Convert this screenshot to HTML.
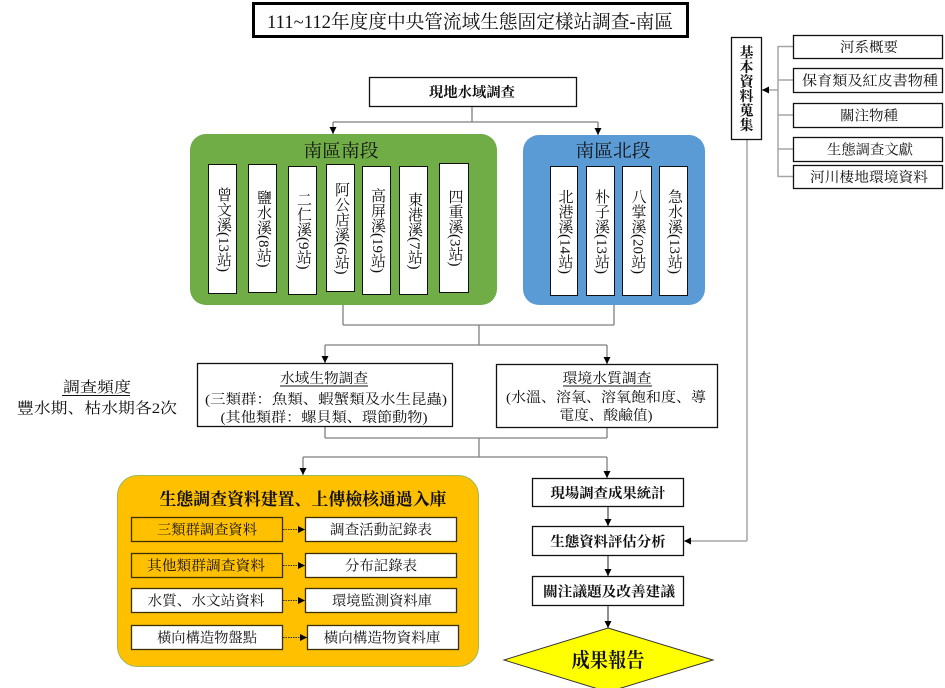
<!DOCTYPE html>
<html><head><meta charset="utf-8">
<style>
html,body{margin:0;padding:0;background:#fff;}
#wrap{position:relative;width:945px;height:688px;overflow:hidden;font-family:"Liberation Serif","Noto Serif CJK SC",serif;}
svg{position:absolute;left:0;top:0;}
svg text{font-family:"Liberation Serif","Noto Serif CJK SC",serif;fill:#111;}
.st{position:absolute;box-sizing:border-box;border:1.5px solid #111;background:#fff;display:flex;align-items:center;justify-content:center;}
.st span{writing-mode:vertical-rl;text-orientation:mixed;font-size:15px;line-height:15px;color:#111;}
</style></head><body>
<div id="wrap">
<svg width="945" height="688" viewBox="0 0 945 688" xmlns="http://www.w3.org/2000/svg">
<defs>
<marker id="a" viewBox="0 0 10 10" refX="10" refY="5" markerWidth="7" markerHeight="7" markerUnits="userSpaceOnUse" orient="auto"><path d="M0,0 L10,5 L0,10 z" fill="#000"/></marker>
</defs>

<!-- Title -->
<rect x="253.5" y="3.5" width="434" height="33" fill="#fff" stroke="#000" stroke-width="3"/>
<text x="470" y="28" font-size="19" text-anchor="middle" textLength="406" lengthAdjust="spacingAndGlyphs">111~112年度度中央管流域生態固定樣站調查-南區</text>

<!-- 現地水域調查 -->
<rect x="369.5" y="77.5" width="207" height="29" fill="#fff" stroke="#111" stroke-width="1.3"/>
<text x="472" y="97" font-size="14" font-weight="bold" text-anchor="middle" textLength="86" lengthAdjust="spacingAndGlyphs">現地水域調查</text>

<g stroke="#7f7f7f" stroke-width="1.3" fill="none">
<line x1="472" y1="107" x2="472" y2="122"/>
<line x1="333" y1="122" x2="598" y2="122"/>
<line x1="333" y1="122" x2="333" y2="134" marker-end="url(#a)"/>
<line x1="598" y1="122" x2="598" y2="135" marker-end="url(#a)"/>
</g>

<!-- Green / Blue groups -->
<rect x="190" y="134" width="307" height="171" rx="16" fill="#70AD47"/>
<text x="341" y="157" font-size="18" text-anchor="middle" textLength="75" lengthAdjust="spacingAndGlyphs">南區南段</text>
<rect x="523" y="135" width="182" height="170" rx="16" fill="#5B9BD5"/>
<text x="613" y="157" font-size="18" text-anchor="middle" textLength="75" lengthAdjust="spacingAndGlyphs">南區北段</text>

<!-- connectors middle -->
<g stroke="#7f7f7f" stroke-width="1.3" fill="none">
<line x1="343" y1="305" x2="343" y2="325"/>
<line x1="614" y1="305" x2="614" y2="325"/>
<line x1="343" y1="325" x2="614" y2="325"/>
<line x1="479" y1="325" x2="479" y2="345"/>
<line x1="325" y1="345" x2="607" y2="345"/>
<line x1="325" y1="345" x2="325" y2="363" marker-end="url(#a)"/>
<line x1="607" y1="345" x2="607" y2="364" marker-end="url(#a)"/>
<line x1="325" y1="427" x2="325" y2="438"/>
<line x1="607" y1="428" x2="607" y2="438"/>
<line x1="325" y1="438" x2="607" y2="438"/>
<line x1="479" y1="438" x2="479" y2="457"/>
<line x1="303" y1="457" x2="607" y2="457"/>
<line x1="303" y1="457" x2="303" y2="475" marker-end="url(#a)"/>
<line x1="607" y1="457" x2="607" y2="478" marker-end="url(#a)"/>
</g>

<!-- 調查頻度 -->
<text x="97" y="392" font-size="15" text-anchor="middle" textLength="68" lengthAdjust="spacingAndGlyphs">調查頻度</text>
<line x1="62" y1="395.5" x2="130" y2="395.5" stroke="#111" stroke-width="1"/>
<text x="97" y="413" font-size="15" text-anchor="middle" textLength="160" lengthAdjust="spacingAndGlyphs">豐水期、枯水期各2次</text>

<!-- 水域生物調查 -->
<rect x="197.5" y="363.5" width="255" height="63" fill="#fff" stroke="#111" stroke-width="1.3"/>
<text x="324" y="383" font-size="14" text-anchor="middle" textLength="88" lengthAdjust="spacingAndGlyphs">水域生物調查</text>
<line x1="280" y1="386" x2="368" y2="386" stroke="#111" stroke-width="1"/>
<text x="326" y="404" font-size="14" text-anchor="middle" textLength="242" lengthAdjust="spacingAndGlyphs">(三類群：魚類、蝦蟹類及水生昆蟲)</text>
<text x="324" y="422" font-size="14" text-anchor="middle" textLength="207" lengthAdjust="spacingAndGlyphs">(其他類群：螺貝類、環節動物)</text>

<!-- 環境水質調查 -->
<rect x="496.5" y="364.5" width="221" height="63" fill="#fff" stroke="#111" stroke-width="1.3"/>
<text x="607" y="383" font-size="14" text-anchor="middle" textLength="89" lengthAdjust="spacingAndGlyphs">環境水質調查</text>
<line x1="563" y1="386" x2="652" y2="386" stroke="#111" stroke-width="1"/>
<text x="606" y="402" font-size="14" text-anchor="middle" textLength="200" lengthAdjust="spacingAndGlyphs">(水溫、溶氧、溶氧飽和度、導</text>
<text x="606" y="420" font-size="14" text-anchor="middle" textLength="93" lengthAdjust="spacingAndGlyphs">電度、酸鹼值)</text>

<!-- Orange group -->
<rect x="117.5" y="475.5" width="361" height="191" rx="20" fill="#FFC000" stroke="#9BBB59" stroke-width="1"/>
<text x="303" y="505" font-size="17" font-weight="bold" text-anchor="middle" textLength="287" lengthAdjust="spacingAndGlyphs">生態調查資料建置、上傳檢核通過入庫</text>

<g stroke="#3a3000" stroke-width="1.3">
<rect x="131.5" y="517.5" width="151" height="24" fill="#FFC000"/>
<rect x="131.5" y="553.5" width="151" height="24" fill="#FFC000"/>
<rect x="131.5" y="588.5" width="151" height="24" fill="#fff"/>
<rect x="131.5" y="625.5" width="151" height="24" fill="#fff"/>
<rect x="305.5" y="517.5" width="151" height="24" fill="#fff"/>
<rect x="305.5" y="553.5" width="151" height="24" fill="#fff"/>
<rect x="305.5" y="588.5" width="151" height="24" fill="#fff"/>
<rect x="307.5" y="625.5" width="151" height="24" fill="#fff"/>
</g>
<g stroke="#333" stroke-width="1" stroke-dasharray="1.5,1" fill="none">
<line x1="283" y1="529.5" x2="305" y2="529.5" marker-end="url(#a)"/>
<line x1="283" y1="565.5" x2="305" y2="565.5" marker-end="url(#a)"/>
<line x1="283" y1="600.5" x2="305" y2="600.5" marker-end="url(#a)"/>
<line x1="283" y1="637.5" x2="307" y2="637.5" marker-end="url(#a)"/>
</g>
<g font-size="14" text-anchor="middle">
<text x="207" y="534.5" textLength="100" lengthAdjust="spacingAndGlyphs">三類群調查資料</text>
<text x="381" y="534.5" textLength="102" lengthAdjust="spacingAndGlyphs">調查活動記錄表</text>
<text x="206" y="570.5" textLength="118" lengthAdjust="spacingAndGlyphs">其他類群調查資料</text>
<text x="381" y="570.5" textLength="72" lengthAdjust="spacingAndGlyphs">分布記錄表</text>
<text x="206" y="605.5" textLength="117" lengthAdjust="spacingAndGlyphs">水質、水文站資料</text>
<text x="382" y="605.5" textLength="100" lengthAdjust="spacingAndGlyphs">環境監測資料庫</text>
<text x="207" y="642.5" textLength="100" lengthAdjust="spacingAndGlyphs">橫向構造物盤點</text>
<text x="382" y="642.5" textLength="117" lengthAdjust="spacingAndGlyphs">橫向構造物資料庫</text>
</g>

<!-- Right flow -->
<g stroke="#111" stroke-width="1.3" fill="#fff">
<rect x="532.5" y="478.5" width="151" height="28"/>
<rect x="532.5" y="526.5" width="151" height="29"/>
<rect x="532.5" y="576.5" width="151" height="29"/>
</g>
<g font-size="14" font-weight="bold" text-anchor="middle">
<text x="608" y="498" textLength="115" lengthAdjust="spacingAndGlyphs">現場調查成果統計</text>
<text x="608" y="546.5" textLength="115" lengthAdjust="spacingAndGlyphs">生態資料評估分析</text>
<text x="609" y="596.5" textLength="132" lengthAdjust="spacingAndGlyphs">關注議題及改善建議</text>
</g>
<g stroke="#555" stroke-width="1.3" fill="none">
<line x1="608" y1="507" x2="608" y2="526" marker-end="url(#a)"/>
<line x1="608" y1="556" x2="608" y2="576" marker-end="url(#a)"/>
<line x1="608" y1="606" x2="608" y2="628" marker-end="url(#a)"/>
</g>
<polygon points="608,628 713,660 608,692 504,660" fill="#FFFF00" stroke="#333" stroke-width="1"/>
<text x="608" y="667" font-size="20" font-weight="bold" text-anchor="middle" textLength="73" lengthAdjust="spacingAndGlyphs">成果報告</text>

<!-- Right side: basic data -->
<g stroke="#a6a6a6" stroke-width="1.5" fill="none">
<line x1="747" y1="139" x2="747" y2="541"/>
<line x1="747" y1="541" x2="684" y2="541" marker-end="url(#a)"/>
<line x1="778" y1="46" x2="778" y2="177"/>
<line x1="778" y1="46.5" x2="793" y2="46.5"/>
<line x1="778" y1="80" x2="793" y2="80"/>
<line x1="778" y1="115" x2="793" y2="115"/>
<line x1="778" y1="149" x2="793" y2="149"/>
<line x1="778" y1="176.5" x2="793" y2="176.5"/>
<line x1="778" y1="90" x2="762" y2="90" marker-end="url(#a)"/>
</g>
<rect x="731.5" y="37.5" width="30" height="102" fill="#fff" stroke="#111" stroke-width="1.3"/>
<g font-size="14" font-weight="bold" text-anchor="middle">
<text x="746.5" y="57.5">基</text>
<text x="746.5" y="72">本</text>
<text x="746.5" y="86.5">資</text>
<text x="746.5" y="101">料</text>
<text x="746.5" y="115.5">蒐</text>
<text x="746.5" y="130">集</text>
</g>
<g stroke="#111" stroke-width="1.3" fill="#fff">
<rect x="793.5" y="35.5" width="149" height="23"/>
<rect x="793.5" y="68.5" width="149" height="24"/>
<rect x="793.5" y="103.5" width="149" height="24"/>
<rect x="793.5" y="137.5" width="149" height="24"/>
<rect x="793.5" y="165.5" width="149" height="23"/>
</g>
<g font-size="14" text-anchor="middle">
<text x="869" y="52" textLength="58" lengthAdjust="spacingAndGlyphs">河系概要</text>
<text x="870" y="85.5" textLength="136" lengthAdjust="spacingAndGlyphs">保育類及紅皮書物種</text>
<text x="869" y="120.5" textLength="58" lengthAdjust="spacingAndGlyphs">關注物種</text>
<text x="870" y="154.5" textLength="86" lengthAdjust="spacingAndGlyphs">生態調查文獻</text>
<text x="869" y="182" textLength="118" lengthAdjust="spacingAndGlyphs">河川棲地環境資料</text>
</g>
</svg>

<!-- Green station boxes -->
<div class="st" style="left:208px;top:164px;width:29px;height:130px;"><span>曾文溪(13站)</span></div>
<div class="st" style="left:248px;top:164px;width:29px;height:129px;"><span>鹽水溪(8站)</span></div>
<div class="st" style="left:288px;top:166px;width:29px;height:129px;"><span>二仁溪(9站)</span></div>
<div class="st" style="left:326px;top:164px;width:29px;height:128px;"><span>阿公店溪(6站)</span></div>
<div class="st" style="left:362px;top:166px;width:29px;height:129px;"><span>高屏溪(19站)</span></div>
<div class="st" style="left:399px;top:166px;width:29px;height:129px;"><span>東港溪(7站)</span></div>
<div class="st" style="left:439px;top:163px;width:30px;height:130px;"><span>四重溪(3站)</span></div>

<!-- Blue station boxes -->
<div class="st" style="left:550px;top:166px;width:28px;height:130px;"><span>北港溪(14站)</span></div>
<div class="st" style="left:586px;top:166px;width:29px;height:130px;"><span>朴子溪(13站)</span></div>
<div class="st" style="left:622px;top:166px;width:30px;height:130px;"><span>八掌溪(20站)</span></div>
<div class="st" style="left:659px;top:166px;width:29px;height:130px;"><span>急水溪(13站)</span></div>
</div>
</body></html>
